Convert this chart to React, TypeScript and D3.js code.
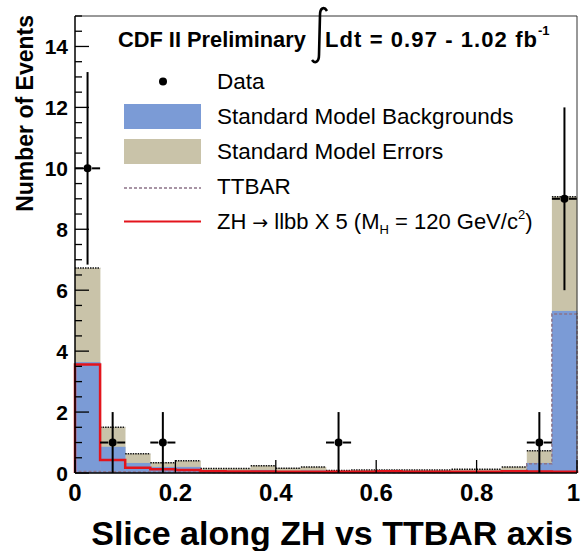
import React, { useEffect, useRef } from 'react';
import * as d3 from 'd3';

// bin lower edges (20 bins of 0.05)
const binLo = [0, 0.05, 0.1, 0.15, 0.2, 0.25, 0.3, 0.35, 0.4, 0.45, 0.5, 0.55, 0.6, 0.65, 0.7, 0.75, 0.8, 0.85, 0.9, 0.95];
const binWidth = 0.05;

// SM background + error band (tan), SM background (blue)
const smErrors = [6.73, 1.5, 0.63, 0.34, 0.4, 0.15, 0.15, 0.24, 0.16, 0.2, 0.08, 0.1, 0.1, 0.1, 0.1, 0.12, 0.12, 0.2, 0.73, 9.07];
const smBkg = [3.64, 0.86, 0.33, 0.2, 0.2, 0.08, 0.07, 0.1, 0.06, 0.08, 0.04, 0.05, 0.05, 0.06, 0.05, 0.06, 0.06, 0.1, 0.33, 5.32];
const ttbar = [0.05, 0.04, 0.03, 0.03, 0.03, 0.02, 0.02, 0.02, 0.02, 0.02, 0.02, 0.02, 0.02, 0.02, 0.02, 0.03, 0.03, 0.04, 0.3, 5.22];
const zh = [3.56, 0.43, 0.17, 0.12, 0.1, 0.06, 0.05, 0.05, 0.04, 0.04, 0.04, 0.04, 0.06, 0.04, 0.04, 0.04, 0.04, 0.06, 0.05, 0.04];

// data points
const dataX = [0.025, 0.075, 0.175, 0.525, 0.925, 0.975];
const dataY = [10, 1, 1, 1, 1, 9];
const dataErr = [3.16, 1, 1, 1, 1, 3];

const xTicks = [0, 0.2, 0.4, 0.6, 0.8, 1];
const xTickLabels = ['0', '0.2', '0.4', '0.6', '0.8', '1'];
const yTicks = [0, 2, 4, 6, 8, 10, 12, 14];

const BLUE = '#7b9bd6';
const TAN = '#c9c3a9';
const RED = '#e3141c';
const TT = '#8c7388';

export default function App() {
  const ref = useRef<SVGGElement>(null);

  useEffect(() => {
    const svg = d3.select(ref.current);
    svg.selectAll('*').remove();

    const x = d3.scaleLinear().domain([0, 1]).range([75, 577]);
    const y = d3.scaleLinear().domain([0, 15]).range([473, 16]);

    const g = svg.append('g');

    // filled histograms
    const bars = (vals: number[], color: string) => {
      g.append('g').selectAll('rect').data(vals).enter().append('rect')
        .attr('x', (d, i) => x(binLo[i]))
        .attr('width', x(binWidth) - x(0) + 0.3)
        .attr('y', d => y(d))
        .attr('height', d => y(0) - y(d))
        .attr('fill', color);
    };
    bars(smErrors, TAN);
    bars(smBkg, BLUE);

    // dotted tops of the error band
    g.append('g').selectAll('line').data(smErrors).enter().append('line')
      .attr('x1', (d, i) => x(binLo[i]))
      .attr('x2', (d, i) => x(binLo[i] + binWidth))
      .attr('y1', d => y(d)).attr('y2', d => y(d))
      .attr('stroke', '#111').attr('stroke-width', 1.5)
      .attr('stroke-dasharray', '1.5,1');

    const stepLine = (vals: number[]) => {
      const pts: [number, number][] = [[0, 0]];
      vals.forEach((v, i) => pts.push([binLo[i], v]));
      pts.push([1, vals[vals.length - 1]]);
      pts.push([1, 0]);
      return d3.line<[number, number]>()
        .x(d => x(d[0])).y(d => y(d[1]))
        .curve(d3.curveStepAfter)(pts);
    };

    g.append('path').attr('d', stepLine(ttbar))
      .attr('fill', 'none').attr('stroke', TT).attr('stroke-width', 1.5)
      .attr('stroke-dasharray', '3,2');
    g.append('path').attr('d', stepLine(zh))
      .attr('fill', 'none').attr('stroke', RED).attr('stroke-width', 2.5);

    // frame
    svg.append('line').attr('x1', 75).attr('x2', 577).attr('y1', 16).attr('y2', 16)
      .attr('stroke', '#333').attr('stroke-width', 1);
    svg.append('line').attr('x1', 577).attr('x2', 577).attr('y1', 16).attr('y2', 473)
      .attr('stroke', '#333').attr('stroke-width', 1);

    // y axis
    const yMinor = d3.range(0, 15.01, 0.5);
    svg.append('g').selectAll('line').data(yMinor).enter().append('line')
      .attr('x1', 75).attr('x2', d => (d % 2 === 0 ? 89 : 82))
      .attr('y1', d => y(d)).attr('y2', d => y(d))
      .attr('stroke', '#000').attr('stroke-width', 1.3);
    svg.append('line').attr('x1', 75).attr('x2', 75).attr('y1', 16).attr('y2', 473)
      .attr('stroke', '#000').attr('stroke-width', 1.5);
    svg.append('g').selectAll('text').data(yTicks).enter().append('text')
      .attr('x', 68).attr('y', d => y(d) + 7.5)
      .attr('text-anchor', 'end')
      .attr('font-family', 'Liberation Sans, Arial, sans-serif')
      .attr('font-weight', 'bold').attr('font-size', 21)
      .text(d => d);

    // x axis
    svg.append('g').selectAll('line').data(xTicks).enter().append('line')
      .attr('x1', d => x(d)).attr('x2', d => x(d))
      .attr('y1', 473).attr('y2', 460)
      .attr('stroke', '#000').attr('stroke-width', 1.3);
    svg.append('line').attr('x1', 75).attr('x2', 577).attr('y1', 473).attr('y2', 473)
      .attr('stroke', '#000').attr('stroke-width', 1.5);
    svg.append('g').selectAll('text').data(xTicks).enter().append('text')
      .attr('x', d => (d === 1 ? 580 : x(d))).attr('y', 501)
      .attr('text-anchor', d => (d === 1 ? 'end' : 'middle'))
      .attr('font-family', 'Liberation Sans, Arial, sans-serif')
      .attr('font-weight', 'bold').attr('font-size', 24)
      .text((d, i) => xTickLabels[i]);

    // data points
    const pts = g.append('g');
    dataX.forEach((dx, i) => {
      const cx = x(dx), cy = y(dataY[i]);
      pts.append('line').attr('x1', cx).attr('x2', cx)
        .attr('y1', y(dataY[i] - dataErr[i])).attr('y2', y(dataY[i] + dataErr[i]))
        .attr('stroke', '#000').attr('stroke-width', 2);
      pts.append('line').attr('x1', x(dx - binWidth / 2)).attr('x2', cx - 4.5)
        .attr('y1', cy).attr('y2', cy).attr('stroke', '#000').attr('stroke-width', 2);
      pts.append('line').attr('x1', cx + 4.5).attr('x2', x(dx + binWidth / 2))
        .attr('y1', cy).attr('y2', cy).attr('stroke', '#000').attr('stroke-width', 2);
      pts.append('circle').attr('cx', cx).attr('cy', cy).attr('r', 4).attr('fill', '#000');
    });
  }, []);

  const font = 'Liberation Sans, Arial, sans-serif';
  const legendY = [81.5, 116.5, 151.5, 186.5, 221.5];
  const legendFs = 22.5;

  return (
    <svg width={581} height={551}
      style={{ position: 'absolute', left: 0, top: 0, background: '#fff' }}>
      <g ref={ref} />
      {/* header */}
      <text x={118} y={47} fontFamily={font} fontWeight="bold" fontSize={21.8}>CDF II Preliminary</text>
      <path d="M327,11 C324,6 320,8 320,15 L319,55 C319,62 315,64 312,60" fill="none" stroke="#000" strokeWidth={2.6} />
      <text x={325} y={47} fontFamily={font} fontWeight="bold" fontSize={22} textLength={212} lengthAdjust="spacing">Ldt = 0.97 - 1.02 fb</text>
      <text x={538} y={35} fontFamily={font} fontWeight="bold" fontSize={13}>-1</text>
      {/* legend */}
      <circle cx={163} cy={legendY[0]} r={4} fill="#000" />
      <rect x={124} y={legendY[1] - 12.5} width={77} height={25} fill={BLUE} />
      <rect x={124} y={legendY[2] - 12.5} width={77} height={25} fill={TAN} />
      <line x1={124} x2={201} y1={legendY[3] + 1.5} y2={legendY[3] + 1.5} stroke={TT} strokeWidth={1.5} strokeDasharray="3,2" />
      <line x1={124} x2={201} y1={legendY[4]} y2={legendY[4]} stroke={RED} strokeWidth={2} />
      {['Data', 'Standard Model Backgrounds', 'Standard Model Errors', 'TTBAR'].map((t, i) => (
        <text key={t} x={217} y={legendY[i] + 7.5} fontFamily={font} fontSize={legendFs}>{t}</text>
      ))}
      <text x={217} y={legendY[4] + 7.5} fontFamily={font} fontSize={legendFs - 0.5}>
        ZH<tspan fontFamily="DejaVu Sans" fontSize={19}> → </tspan>llbb X 5 (M<tspan fontSize={13} dy={5}>H</tspan><tspan dy={-5}> = 120 GeV/c</tspan><tspan fontSize={13} dy={-10}>2</tspan><tspan dy={10}>)</tspan>
      </text>
      {/* axis titles */}
      <text transform="translate(33,15) rotate(-90)" textAnchor="end" fontFamily={font} fontWeight="bold" fontSize={23}>Number of Events</text>
      <text x={573} y={545} textAnchor="end" fontFamily={font} fontWeight="bold" fontSize={34}>Slice along ZH vs TTBAR axis</text>
    </svg>
  );
}
